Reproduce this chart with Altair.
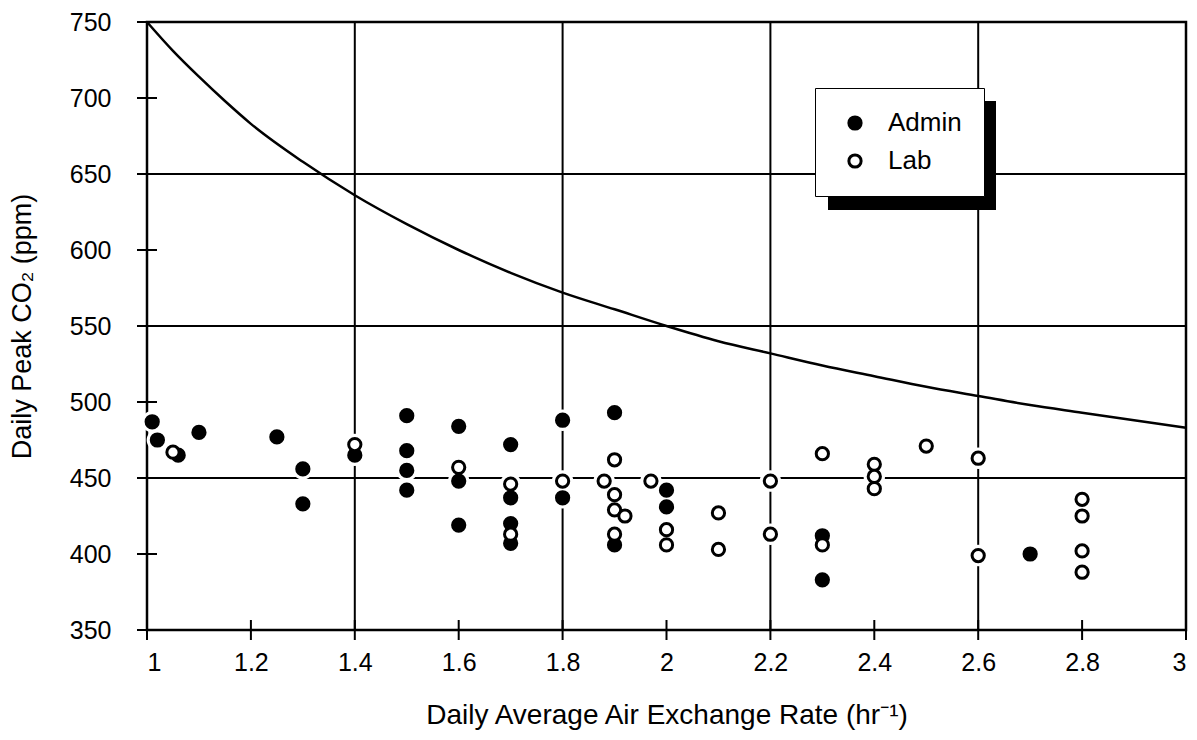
import altair as alt
import pandas as pd

FONT = "Liberation Sans"

# ---- data ----
admin_x = [1.01, 1.02, 1.06, 1.1, 1.25, 1.3, 1.3, 1.4, 1.5, 1.5, 1.5, 1.5, 1.6, 1.6, 1.6,
           1.7, 1.7, 1.7, 1.7, 1.8, 1.8, 1.9, 1.9, 2.0, 2.0, 2.3, 2.3, 2.7]
admin_y = [487, 475, 465, 480, 477, 456, 433, 465, 491, 468, 455, 442, 484, 448, 419,
           472, 437, 420, 407, 488, 437, 493, 406, 442, 431, 412, 383, 400]

lab_x = [1.05, 1.4, 1.6, 1.7, 1.7, 1.8, 1.88, 1.9, 1.9, 1.9, 1.92, 1.9, 1.97, 2.0, 2.0,
         2.1, 2.1, 2.2, 2.2, 2.3, 2.3, 2.4, 2.4, 2.4, 2.5, 2.6, 2.6, 2.8, 2.8, 2.8, 2.8]
lab_y = [467, 472, 457, 446, 413, 448, 448, 462, 439, 429, 425, 413, 448, 416, 406,
         427, 403, 448, 413, 466, 406, 459, 451, 443, 471, 463, 399, 436, 425, 402, 388]

curve_x = [1.0, 1.05, 1.1, 1.15, 1.2, 1.3, 1.4, 1.5, 1.6, 1.7, 1.8, 1.9, 2.0, 2.1, 2.2,
           2.3, 2.4, 2.5, 2.6, 2.7, 2.8, 2.9, 3.0]
curve_y = [750, 731, 714, 698, 683, 658, 636, 617, 600, 585, 572, 561, 550, 540, 532,
           524, 517, 510, 504, 498, 493, 488, 483]

x_ticks = [1.0, 1.2, 1.4, 1.6, 1.8, 2.0, 2.2, 2.4, 2.6, 2.8, 3.0]
y_ticks = [350, 400, 450, 500, 550, 600, 650, 700, 750]
x_grid = [1.0, 1.4, 1.8, 2.2, 2.6, 3.0]
y_grid = [350, 450, 550, 650, 750]
groups = ["Admin", "Lab"]

# ---- tables ----
pts = pd.DataFrame({
    "x": admin_x + lab_x,
    "y": admin_y + lab_y,
    "group": [groups[0]] * len(admin_x) + [groups[1]] * len(lab_x),
})
curve = pd.DataFrame({"x": curve_x, "y": curve_y})
xtick_df = pd.DataFrame({"x": x_ticks, "y": [y_ticks[0]] * len(x_ticks)})
ytick_df = pd.DataFrame({"x": [x_ticks[0]] * len(y_ticks), "y": y_ticks})
xgrid_df = pd.DataFrame({"x": x_grid})
ygrid_df = pd.DataFrame({"y": y_grid})

xs = alt.Scale(domain=[1, 3], nice=False, zero=False)
ys = alt.Scale(domain=[350, 750], nice=False, zero=False)

x_axis = alt.Axis(values=x_ticks, format="~g", ticks=False, domain=False, grid=False,
                  labelFont=FONT, labelFontSize=25, labelPadding=20, labelColor="black",
                  titleFont=FONT, titleFontSize=28, titleFontWeight="normal",
                  titleColor="black", titlePadding=26)
y_axis = alt.Axis(values=y_ticks, ticks=False, domain=False, grid=False,
                  labelFont=FONT, labelFontSize=25, labelPadding=36, labelColor="black",
                  titleFont=FONT, titleFontSize=27, titleFontWeight="normal",
                  titleColor="black", titlePadding=33)

X = alt.X("x:Q", scale=xs, axis=x_axis, title="Daily Average Air Exchange Rate (hr\u207b\u00b9)")
Y = alt.Y("y:Q", scale=ys, axis=y_axis, title="Daily Peak CO\u2082 (ppm)")

grid_v = alt.Chart(xgrid_df).mark_rule(color="black", strokeWidth=2).encode(x=X)
grid_h = alt.Chart(ygrid_df).mark_rule(color="black", strokeWidth=2).encode(y=Y)

ticks_x = alt.Chart(xtick_df).mark_tick(orient="vertical", size=20, thickness=2,
                                        color="black", opacity=1).encode(x=X, y=Y)
ticks_y = alt.Chart(ytick_df).mark_tick(orient="horizontal", size=20, thickness=2,
                                        color="black", opacity=1).encode(x=X, y=Y)

line = alt.Chart(curve).mark_line(color="black", strokeWidth=2.5,
                                  interpolate="monotone").encode(x=X, y=Y)

halo = alt.Chart(pts).mark_circle(size=460, color="white", opacity=1).encode(x=X, y=Y)

points = alt.Chart(pts).mark_point(filled=True, size=150, stroke="black", strokeWidth=3,
                                   opacity=1, shape="circle").encode(
    x=X, y=Y,
    fill=alt.Fill("group:N",
                  scale=alt.Scale(domain=groups, range=["black", "white"]),
                  legend=alt.Legend(title=None, orient="none", legendX=668, legendY=66,
                                    strokeColor="black", fillColor="white", padding=22,
                                    symbolOffset=5, symbolType="circle", symbolSize=150,
                                    symbolStrokeColor="black", symbolStrokeWidth=3,
                                    symbolOpacity=1, labelFont=FONT, labelFontSize=26,
                                    labelColor="black", labelOffset=20, rowPadding=12,
                                    labelExpr="datum.label + '\u00a0\u00a0'")),
)

shadow = alt.Chart(pd.DataFrame({"k": [0]})).mark_rect(color="black").encode(
    x=alt.value(681), x2=alt.value(849), y=alt.value(79), y2=alt.value(188))

chart = alt.layer(grid_v, grid_h, ticks_x, ticks_y, line, shadow, halo, points).properties(
    width=1039, height=608,
    padding={"left": 147, "top": 22, "right": 11, "bottom": 110},
    autosize=alt.AutoSizeParams(type="none"),
    background="white",
).configure_view(stroke="black", strokeWidth=2.5)

chart.save("out.html", embed_options={"renderer": "svg", "actions": False})
